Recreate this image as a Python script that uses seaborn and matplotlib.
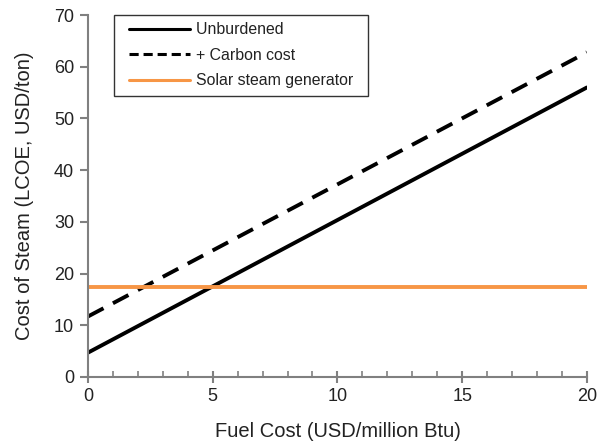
import matplotlib
matplotlib.use("Agg")
import matplotlib.pyplot as plt
import seaborn as sns
from matplotlib.ticker import MultipleLocator
from matplotlib.legend_handler import HandlerLine2D

fuel_cost = [0, 20]
unburdened = [4.7, 56.0]
carbon_cost = [11.7, 62.8]
solar = [17.4, 17.4]
series_names = ["Unburdened", "+ Carbon cost", "Solar steam generator"]

sns.set_theme(style="white")
plt.rcParams['font.family'] = ['Liberation Sans', 'DejaVu Sans']

fig = plt.figure(figsize=(6.05, 4.45), dpi=100)
ax = fig.add_axes([0.1455, 0.153, 0.8245, 0.813])

gray = "#808080"
txt = "#222222"
sns.lineplot(x=fuel_cost, y=unburdened, ax=ax, color="black", lw=2.8, label=series_names[0])
sns.lineplot(x=fuel_cost, y=carbon_cost, ax=ax, color="black", lw=2.8, label=series_names[1])
ax.lines[-1].set_dashes([4.5, 2.75])
sns.lineplot(x=fuel_cost, y=solar, ax=ax, color="#F79646", lw=2.8, label=series_names[2])

ax.set_xlim(0, 20)
ax.set_ylim(0, 70)
ax.xaxis.set_major_locator(MultipleLocator(5))
ax.xaxis.set_minor_locator(MultipleLocator(1))
ax.yaxis.set_major_locator(MultipleLocator(10))

for s in ["top", "right"]:
    ax.spines[s].set_visible(False)
for s in ["left", "bottom"]:
    ax.spines[s].set_color(gray)
    ax.spines[s].set_linewidth(1.5)

ax.tick_params(axis="x", which="major", direction="inout", length=8, width=1.5, color=gray, labelsize=13, pad=4, bottom=True)
ax.tick_params(axis="x", which="minor", direction="in", length=4, width=1.2, color=gray, bottom=True)
ax.tick_params(axis="y", which="major", direction="out", length=6, width=1.5, color=gray, labelsize=13, pad=4, left=True)
for lbl in ax.get_xticklabels() + ax.get_yticklabels():
    lbl.set_color(txt)

ax.set_xlabel("Fuel Cost (USD/million Btu)", fontsize=14.5, color=txt, labelpad=12)
ax.set_ylabel("Cost of Steam (LCOE, USD/ton)", fontsize=14.5, color=txt, labelpad=14)

hm = {ln: HandlerLine2D(xpad=0.46) for ln in ax.lines}
leg = ax.legend(loc="upper left", bbox_to_anchor=(0.053, 1.0), frameon=True, fancybox=False,
                edgecolor="black", fontsize=11.4, handlelength=4.32, handletextpad=0.38,
                labelspacing=0.67, borderpad=0.45, borderaxespad=0, handler_map=hm)
leg.get_frame().set_linewidth(1.0)
for t in leg.get_texts():
    t.set_color(txt)
    t.set_text(t.get_text() + "\u2002")
for i, h in enumerate(leg.get_lines()):
    h.set_linewidth(2.2)
    if i == 1:
        h.set_dashes([3.0, 1.6])

fig.savefig("out.png", dpi=100)
